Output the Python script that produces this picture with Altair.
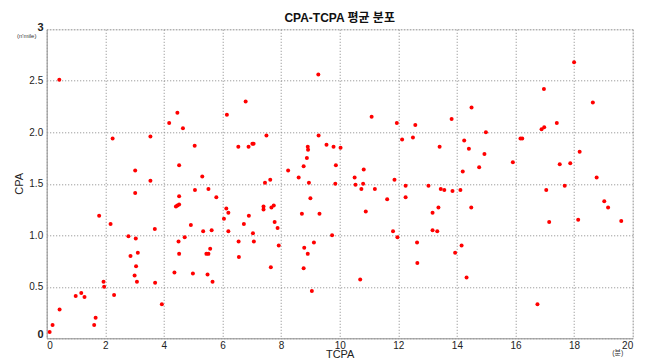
import altair as alt
import pandas as pd

tcpa = [0.43, 4.46, 4.18, 4.65, 2.25, 3.54, 5.05, 4.52, 3.02,
        3.54, 5.06, 3.02, 4.52, 4.41, 4.46, 4.52, 1.79, 2.18, 4.92, 3.69,
        2.79, 3.04, 4.71, 4.50, 3.11, 4.52, 2.86, 3.05, 3.00, 4.36, 4.99,
        1.94, 3.08, 3.70, 1.96, 1.18, 0.99, 1.29, 2.30, 3.93, 0.44, 1.67,
        1.62, 0.20, 0.10,
        9.27, 6.79, 6.15, 7.50, 9.28, 6.54, 6.89, 7.02, 7.06, 8.91, 8.92,
        9.55, 9.79, 10.03, 8.88, 8.77, 9.87, 8.24, 5.31, 8.60, 7.63,
        7.45, 8.95, 9.85, 5.52, 5.79, 9.00, 6.13, 6.20, 7.40, 7.40, 7.67,
        7.75, 8.71, 9.31, 6.90, 6.05, 7.78, 6.73, 7.88, 5.34, 5.63, 6.20,
        7.04, 9.74, 6.55, 7.07, 9.12, 7.92, 8.79, 5.58, 5.45, 5.52, 8.91,
        6.56, 7.65, 8.77, 5.49, 5.66, 9.05,
        14.50, 11.09, 13.82, 11.95, 12.58, 14.99, 12.13, 12.50, 14.25,
        13.41, 14.41, 14.94, 10.82, 14.76, 10.51, 14.20, 11.87,
        10.54, 10.80, 10.74, 11.20, 12.25, 13.03, 13.45, 13.57, 13.85,
        14.12, 12.25, 11.62, 10.89, 13.37, 13.17, 14.49, 13.17, 13.33,
        11.82, 11.97, 12.64, 14.16, 13.94, 12.65, 10.70, 14.33,
        18.00, 16.97, 18.64, 17.41, 16.89, 16.98, 16.17, 16.23, 18.19,
        15.91, 17.51, 17.87, 18.77, 17.68, 17.05, 19.03, 19.16, 17.15,
        18.14, 19.61, 16.75]

cpa = [2.51, 2.19, 2.09, 2.04, 1.94, 1.96, 1.87, 1.68, 1.63,
       1.53, 1.44, 1.41, 1.38, 1.28, 1.29, 1.30, 1.19, 1.11, 1.10, 1.06,
       0.99, 0.97, 0.98, 0.94, 0.83, 0.82, 0.80, 0.70, 0.61, 0.64, 0.63,
       0.55, 0.55, 0.54, 0.50, 0.44, 0.41, 0.40, 0.42, 0.33, 0.28, 0.20,
       0.13, 0.13, 0.06,
       2.56, 2.30, 2.17, 1.97, 1.97, 1.86, 1.86, 1.89, 1.89, 1.86, 1.83,
       1.88, 1.86, 1.85, 1.75, 1.67, 1.68, 1.63, 1.57, 1.56, 1.54,
       1.51, 1.51, 1.50, 1.45, 1.37, 1.36, 1.26, 1.22, 1.28, 1.25, 1.27,
       1.29, 1.21, 1.21, 1.19, 1.16, 1.13, 1.11, 1.07, 1.04, 1.05, 1.04,
       1.02, 1.00, 0.94, 0.94, 0.93, 0.90, 0.88, 0.87, 0.82, 0.82, 0.82,
       0.79, 0.69, 0.68, 0.62, 0.55, 0.46,
       2.24, 2.15, 2.13, 2.09, 2.07, 2.00, 1.93, 1.95, 1.92,
       1.86, 1.84, 1.79, 1.64, 1.66, 1.56, 1.62, 1.54,
       1.49, 1.50, 1.45, 1.45, 1.48, 1.48, 1.45, 1.44, 1.43,
       1.44, 1.37, 1.35, 1.23, 1.27, 1.22, 1.27, 1.05, 1.04,
       1.04, 0.98, 0.93, 0.90, 0.83, 0.73, 0.57, 0.59,
       2.68, 2.42, 2.29, 2.09, 2.03, 2.05, 1.94, 1.94, 1.81,
       1.71, 1.69, 1.70, 1.56, 1.48, 1.44, 1.33, 1.27, 1.13,
       1.15, 1.14, 0.33]

x_ticks = [0, 2, 4, 6, 8, 10, 12, 14, 16, 18, 20]
y_ticks = [0, 0.5, 1, 1.5, 2, 2.5, 3]
chart_title = ["CPA-TCPA 평균 분포"]
y_unit = ["(n'mile)"]
x_unit = ["(분)"]

df = pd.DataFrame({"TCPA": tcpa, "CPA": cpa})

FONT = "Liberation Sans, Arial, Noto Sans CJK KR"

points = alt.Chart(df).mark_circle(size=16, color="#ff0000", opacity=1).encode(
    x=alt.X("TCPA:Q",
            scale=alt.Scale(domain=[0, 20], nice=False),
            axis=alt.Axis(values=x_ticks, title="TCPA", grid=True,
                          gridDash=[1, 2], gridColor="#888888", gridWidth=1,
                          domainColor="#999999", ticks=False,
                          labelFontSize=10, labelColor="#222222",
                          labelFont=FONT, labelPadding=2,
                          titleFont=FONT, titleFontSize=11,
                          titleFontWeight="normal", titleColor="#222222",
                          titleX=293, titleY=16, titleBaseline="middle",
                          titleAlign="center")),
    y=alt.Y("CPA:Q",
            scale=alt.Scale(domain=[0, 3], nice=False),
            axis=alt.Axis(values=y_ticks, title="CPA", grid=True,
                          gridDash=[1, 2], gridColor="#888888", gridWidth=1,
                          domainColor="#999999", ticks=False,
                          labelFontSize=10, labelColor="#222222",
                          labelFont=FONT, labelPadding=4,
                          labelExpr="datum.value == 0 || datum.value == 3 ? '' : datum.label",
                          titleFont=FONT, titleFontSize=11,
                          titleFontWeight="normal", titleColor="#222222",
                          titleX=-27, titleY=154, titleAngle=-90,
                          titleBaseline="middle", titleAlign="center")),
)

title_txt = alt.Chart(pd.DataFrame({"t": chart_title})).mark_text(
    fontSize=12, font=FONT, fontWeight="bold", color="#111111",
    align="center", baseline="middle"
).encode(x=alt.value(293), y=alt.value(-11), text="t:N")

unit_y = alt.Chart(pd.DataFrame({"t": y_unit})).mark_text(
    fontSize=6, font=FONT, color="#333333", align="center", baseline="middle"
).encode(x=alt.value(-20), y=alt.value(7), text="t:N")

unit_x = alt.Chart(pd.DataFrame({"t": x_unit})).mark_text(
    fontSize=7, font=FONT, color="#333333", align="center", baseline="middle"
).encode(x=alt.value(571), y=alt.value(309 + 15), text="t:N")

corner3 = alt.Chart(pd.DataFrame({"t": ["3"]})).mark_text(
    fontSize=11, font=FONT, fontWeight="bold", color="#222222", align="right",
    baseline="middle").encode(x=alt.value(-3), y=alt.value(-1), text="t:N")
corner0 = alt.Chart(pd.DataFrame({"t": ["0"]})).mark_text(
    fontSize=11, font=FONT, fontWeight="bold", color="#222222", align="right",
    baseline="middle").encode(x=alt.value(-3), y=alt.value(306), text="t:N")

chart = alt.layer(points, title_txt, unit_y, corner3, corner0, unit_x).properties(
    width=586, height=309,
    autosize=alt.AutoSizeParams(type="none"),
    padding={"left": 38.7, "top": 21.3, "right": 4, "bottom": 20},
).configure_view(stroke="#999999", strokeWidth=1).configure(background="white")

chart.save("out.html", embed_options={"renderer": "svg", "actions": False})
